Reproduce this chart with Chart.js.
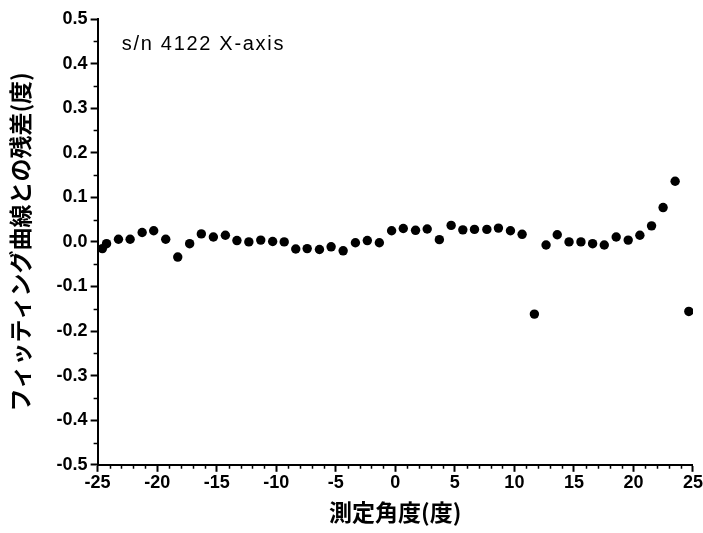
<!DOCTYPE html>
<html>
<head>
<meta charset="utf-8">
<script src="https://cdn.jsdelivr.net/npm/chart.js@4.4.1/dist/chart.umd.min.js"></script>
<style>
  body { margin: 0; background: #fff; }
  #wrap { position: relative; width: 703px; height: 533px; }
</style>
</head>
<body>
<div id="wrap"><canvas id="chart"></canvas></div>
<script>
// measured angle (deg) and residual from fitted curve (deg)
const angles = [-24.6, -24.25, -23.25, -22.27, -21.26, -20.29, -19.28, -18.27, -17.27, -16.29,
  -15.28, -14.27, -13.3, -12.3, -11.3, -10.3, -9.33, -8.36, -7.4, -6.37,
  -5.39, -4.38, -3.35, -2.35, -1.34, -0.31, 0.67, 1.7, 2.68, 3.7,
  4.69, 5.67, 6.65, 7.69, 8.66, 9.67, 10.65, 11.68, 12.66, 13.6,
  14.59, 15.59, 16.57, 17.55, 18.55, 19.56, 20.54, 21.52, 22.49, 23.5, 24.65];
const residuals = [-0.015, -0.004, 0.006, 0.006, 0.021, 0.025, 0.006, -0.034, -0.004, 0.018,
  0.011, 0.015, 0.003, 0.0, 0.004, 0.001, 0.0, -0.016, -0.015, -0.017,
  -0.011, -0.02, -0.002, 0.003, -0.002, 0.025, 0.03, 0.026, 0.029, 0.005,
  0.037, 0.027, 0.028, 0.028, 0.031, 0.025, 0.017, -0.162, -0.007, 0.016,
  0.0, 0.0, -0.004, -0.007, 0.011, 0.004, 0.015, 0.036, 0.077, 0.136, -0.156];

const xRange = [-25, 25];
const yRange = [-0.5, 0.5];
const xTitle = '測定角度(度)';
const yTitle = 'フィッティング曲線との残差(度)';
const note = 's/n 4122 X-axis';

const points = angles.map((a, i) => ({x: a, y: residuals[i]}));

const tickFont = {family: '"Liberation Sans", Arial, sans-serif', size: 18, weight: 'bold'};
const titleFont = {family: '"Noto Sans CJK JP", sans-serif', size: 23, weight: 'bold'};

// minor ticks + the serial number note
const extras = {
  id: 'extras',
  afterDraw(chart) {
    const {ctx, scales: {x, y}} = chart;
    ctx.save();
    ctx.strokeStyle = '#000';
    ctx.lineWidth = 1.5;
    ctx.beginPath();
    for (let v = xRange[0]; v <= xRange[1]; v++) {
      if (v % 5 === 0) continue;
      const px = Math.round(x.getPixelForValue(v)) + 0.5;
      ctx.moveTo(px, y.bottom);
      ctx.lineTo(px, y.bottom + 4);
    }
    for (let k = -9; k <= 9; k += 2) {
      const py = Math.round(y.getPixelForValue(k * 0.05)) + 0.5;
      ctx.moveTo(x.left, py);
      ctx.lineTo(x.left - 4, py);
    }
    ctx.stroke();

    ctx.fillStyle = '#000';
    ctx.font = '20px "Liberation Sans", Arial, sans-serif';
    ctx.letterSpacing = '1.7px';
    ctx.textBaseline = 'middle';
    ctx.fillText(note, x.getPixelForValue(-22.97), y.getPixelForValue(0.442));
    ctx.restore();
  }
};

new Chart('chart', {
  type: 'scatter',
  data: {
    datasets: [{
      data: points,
      backgroundColor: '#000',
      borderColor: '#000',
      pointRadius: 4.7,
      pointHoverRadius: 4.7,
      borderWidth: 0
    }]
  },
  options: {
    responsive: true,
    maintainAspectRatio: false,
    animation: false,
    layout: {padding: {left: 2, right: 0, top: 19, bottom: 7}},
    plugins: {legend: {display: false}, tooltip: {enabled: false}},
    scales: {
      x: {
        type: 'linear',
        min: xRange[0],
        max: xRange[1],
        border: {color: '#000', width: 2},
        grid: {drawOnChartArea: false, tickLength: 7, tickColor: '#000', tickWidth: 2},
        ticks: {stepSize: 5, color: '#000', font: tickFont, padding: 0, maxRotation: 0},
        title: {display: true, text: xTitle, color: '#000', font: titleFont, padding: {top: 5, bottom: 0}}
      },
      y: {
        min: yRange[0],
        max: yRange[1],
        border: {color: '#000', width: 2},
        grid: {drawOnChartArea: false, tickLength: 7, tickColor: '#000', tickWidth: 2},
        ticks: {
          stepSize: 0.1, color: '#000', font: tickFont, padding: 3,
          callback: v => (Math.abs(v) < 1e-9 ? 0 : v).toFixed(1)
        },
        title: {display: true, text: yTitle, color: '#000', font: titleFont, padding: {top: 4, bottom: 20}}
      }
    }
  },
  plugins: [extras]
});
</script>
</body>
</html>
